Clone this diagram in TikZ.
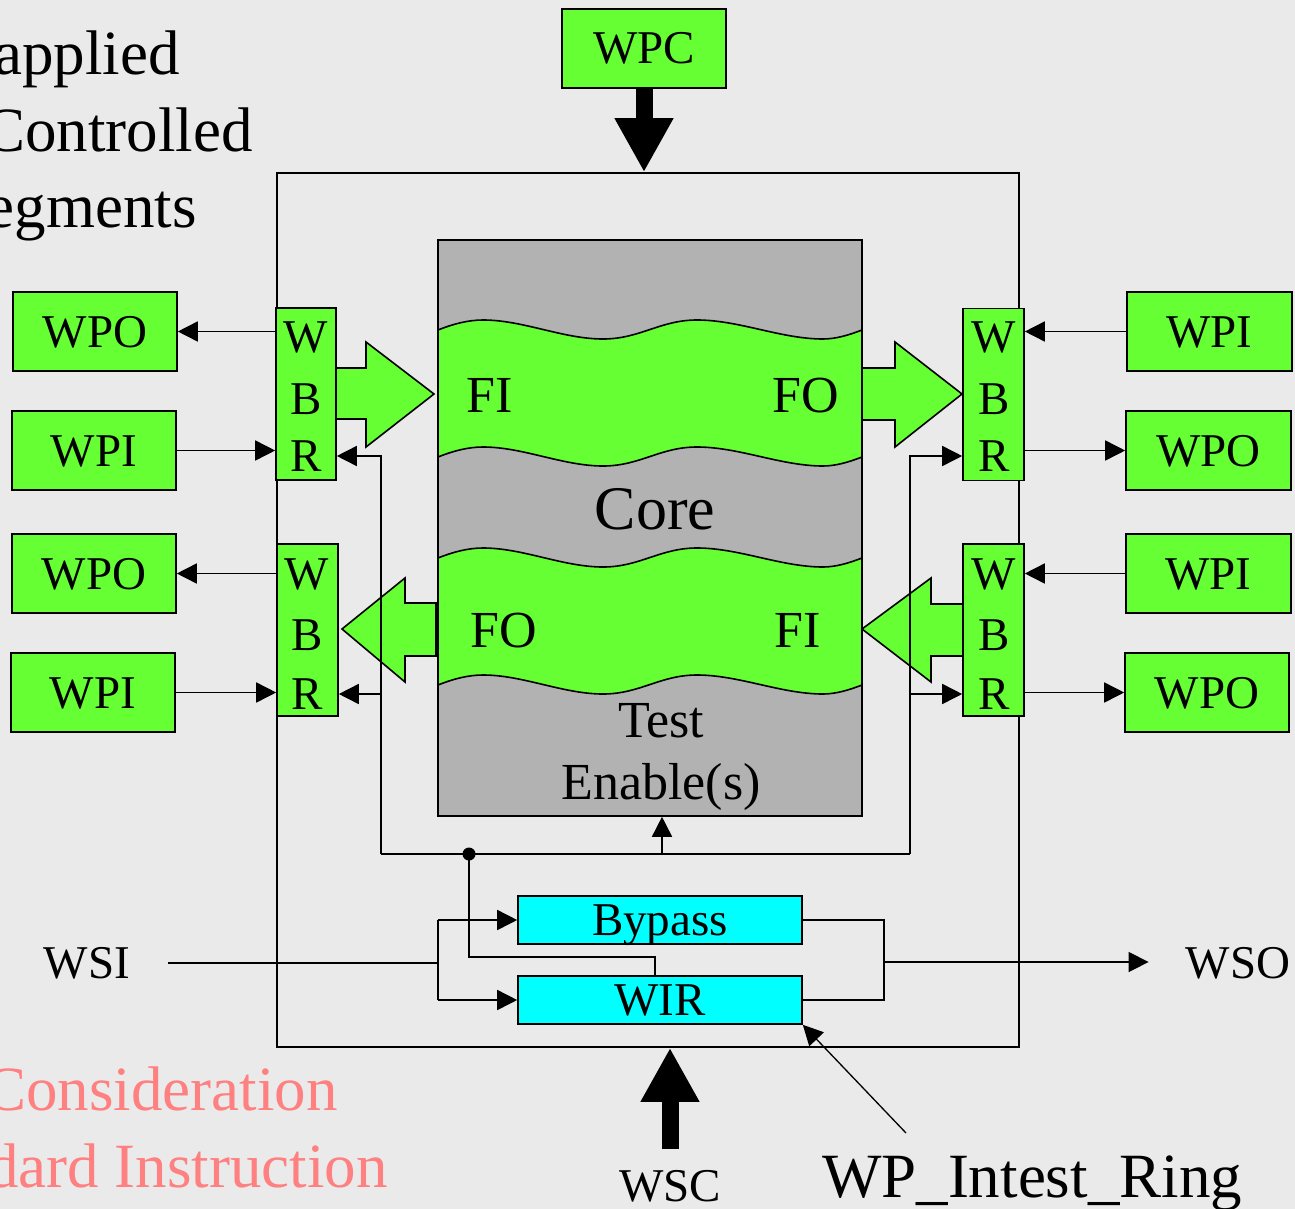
\documentclass[tikz,border=0pt]{standalone}
\usepackage{fontspec}
\setmainfont{Liberation Serif}
\usetikzlibrary{arrows.meta,calc}
\definecolor{bgc}{HTML}{EAEAEA}
\definecolor{grn}{HTML}{66FF33}
\definecolor{cyn}{HTML}{00FFFF}
\definecolor{coregray}{HTML}{B2B2B2}
\definecolor{redtxt}{HTML}{FF8080}
\newcommand\myfs[1]{\fontsize{#1pt}{#1pt}\selectfont}
\newcommand\bandpath{(438,330) .. controls (453,324) and (468,320) .. (483,320)
  .. controls (523,320) and (563,339) .. (603,339)
  .. controls (640,339) and (660,320) .. (697,320)
  .. controls (739,320) and (781,339) .. (823,339)
  .. controls (836,339) and (849,335) .. (862,330)
  -- (862,457)
  .. controls (849,462) and (836,466) .. (823,466)
  .. controls (781,466) and (739,447) .. (697,447)
  .. controls (660,447) and (640,466) .. (603,466)
  .. controls (563,466) and (523,447) .. (483,447)
  .. controls (468,447) and (453,451) .. (438,457) -- cycle}
\begin{document}
\begin{tikzpicture}[x=1pt,y=-1pt,
  ln/.style={line width=1.6pt},
  arr/.style={ln,-{Triangle[length=20pt,width=20pt]}},
  bigarr/.style={line width=17pt,-{Triangle[length=54pt,width=55pt]}},
  bx/.style={draw,ln,inner sep=0pt},
  wp/.style={bx,fill=grn,minimum width=164pt,minimum height=79pt,font=\myfs{47},text height=31pt,text depth=0pt},
  wbr/.style={bx,fill=grn,minimum width=61pt,minimum height=172pt},
  ltr/.style={font=\myfs{47},inner sep=0pt,text height=31pt,text depth=0pt},
  reg/.style={bx,fill=cyn,minimum width=284pt,minimum height=48pt,font=\myfs{47},text height=31pt,text depth=0pt},
  lbl/.style={inner sep=0pt,text depth=0pt},
  band/.style={draw,ln,fill=grn},
  garrow/.style={draw,ln,fill=grn,line join=miter}
]
\path[use as bounding box] (0,0) rectangle (1295,1209);
\clip (0,0) rectangle (1295,1209);
\fill[bgc] (0,0) rectangle (1295,1209);

% side texts
\node[lbl,anchor=base east,font=\myfs{63}] (ta) at (180,75) {applied};
\node[lbl,anchor=base east,font=\myfs{63}] (tb) at (253,152) {Controlled};
\node[lbl,anchor=base east,font=\myfs{63}] (tc) at (197,227) {egments};
\node[lbl,anchor=base east,font=\myfs{63},text=redtxt] (td) at (338,1110) {Consideration};
\node[lbl,anchor=base east,font=\myfs{63},text=redtxt] (tf) at (388,1187) {dard Instruction};

% outer wrapper and core
\node[bx,minimum width=742pt,minimum height=874pt] (outer) at (648,610) {};
\node[bx,fill=coregray,minimum width=424pt,minimum height=576pt] (core) at (650,528) {};
\path[band] \bandpath;
\begin{scope}[yshift=-228pt]
\path[band] \bandpath;
\end{scope}
\node[lbl,font=\myfs{52},text height=34pt] (fi1) at (490,395) {FI};
\node[lbl,font=\myfs{52},text height=34pt] (fo1) at (806,395) {FO};
\node[lbl,font=\myfs{52},text height=34pt] (fo2) at (504,630) {FO};
\node[lbl,font=\myfs{52},text height=34pt] (fi2) at (798,630) {FI};
\node[lbl,font=\myfs{62},text height=41pt] (coretxt) at (655,509) {Core};
\node[lbl,font=\myfs{52},text height=34pt] (test) at (661,720) {Test};
\node[lbl,font=\myfs{52},text height=34pt] (enab) at (661,782) {Enable(s)};

% feedback lines
\coordinate (fbL) at (381,854);
\coordinate (fbR) at (910,854);
\coordinate (dot) at (469,854);
\coordinate (tec) at (662,854);
\draw[ln] (fbL) -- (fbR);
\draw[arr] (tec) -- (tec |- core.south);

% green big arrows
\path[garrow] (336,368) -- (366,368) -- (366,342) -- (434,394) -- (366,447) -- (366,419) -- (336,419) -- cycle;
\path[garrow] (862,368) -- (895,368) -- (895,342) -- (962,394) -- (895,447) -- (895,420) -- (862,420) -- cycle;
\path[garrow] (436,603) -- (405,603) -- (405,578) -- (342,629) -- (405,682) -- (405,656) -- (436,656) -- cycle;
\path[garrow] (963,604) -- (931,604) -- (931,578) -- (862,629) -- (931,682) -- (931,656) -- (963,656) -- cycle;

% WBR boxes
\node[wbr,minimum width=60pt] (wbrL1) at (306,394) {};
\node[wbr] (wbrL2) at (307.5,630) {};
\node[wbr] (wbrR1) at (993.5,394.5) {};
\node[wbr] (wbrR2) at (993.5,630) {};
\node[ltr] (l1W) at (306,337) {W};
\node[ltr] (l1B) at (306,399) {B};
\node[ltr] (l1R) at (306,456) {R};
\node[ltr] (l2W) at (307,574) {W};
\node[ltr] (l2B) at (307,635) {B};
\node[ltr] (l2R) at (307,694) {R};
\node[ltr] (r1W) at (994,337) {W};
\node[ltr] (r1B) at (994,399) {B};
\node[ltr] (r1R) at (994,456) {R};
\node[ltr] (r2W) at (994,574) {W};
\node[ltr] (r2B) at (994,635) {B};
\node[ltr] (r2R) at (994,694) {R};

\draw[arr] (fbL) |- (wbrL1.east |- l1R);
\draw[arr] (fbL |- l2R) -- (wbrL2.east |- l2R);
\draw[arr] (fbR) |- (wbrR1.west |- r1R);
\draw[arr] (fbR |- r2R) -- (wbrR2.west |- r2R);

% WP boxes
\node[wp] (lwpo1) at (95,331.5) {WPO};
\node[wp] (lwpi1) at (94,450.5) {WPI};
\node[wp] (lwpo2) at (94,573.5) {WPO};
\node[wp] (lwpi2) at (93,692.5) {WPI};
\node[wp,minimum width=165pt] (rwpi1) at (1209.5,331.5) {WPI};
\node[wp,minimum width=165pt] (rwpo1) at (1208.5,450.5) {WPO};
\node[wp,minimum width=165pt] (rwpi2) at (1208.5,573.5) {WPI};
\node[wp] (rwpo2) at (1207,692.5) {WPO};

\draw[arr] (wbrL1.west |- lwpo1) -- (lwpo1.east);
\draw[arr] (lwpi1.east) -- (lwpi1.east -| wbrL1.west);
\draw[arr] (wbrL2.west |- lwpo2) -- (lwpo2.east);
\draw[arr] (lwpi2.east) -- (lwpi2.east -| wbrL2.west);
\draw[arr] (rwpi1.west) -- (rwpi1.west -| wbrR1.east);
\draw[arr] (wbrR1.east |- rwpo1) -- (rwpo1.west);
\draw[arr] (rwpi2.west) -- (rwpi2.west -| wbrR2.east);
\draw[arr] (wbrR2.east |- rwpo2) -- (rwpo2.west);

% WPC
\node[wp] (wpc) at (644,48.5) {WPC};
\draw[bigarr] (wpc.south) -- (wpc.south |- outer.north);

% Bypass / WIR
\node[reg] (bypass) at (660,920) {Bypass};
\node[reg] (wir) at (660,1000) {WIR};
\coordinate (wirJ) at (655,957);
\draw[ln] (dot) |- (wirJ) -- (wirJ |- wir.north);
\fill (dot) circle (6.5);

\node[lbl,font=\myfs{47},text height=31pt] (wsi) at (87,963) {WSI};
\node[lbl,font=\myfs{47},text height=31pt] (wso) at (1238,963) {WSO};
\coordinate (split) at (438,961);
\coordinate (merge) at (884,962);
\draw[ln,shorten <=38pt] (wsi.east) -- (wsi.east -| split);
\draw[ln] (split |- bypass.west) -- (split |- wir.west);
\draw[arr] (split |- bypass.west) -- (bypass.west);
\draw[arr] (split |- wir.west) -- (wir.west);
\draw[ln] (bypass.east) -- (bypass.east -| merge) -- (wir.east -| merge) -- (wir.east);
\draw[arr,shorten >=37pt] (merge) -- (merge -| wso.west);

% WSC
\node[lbl,font=\myfs{47},text height=31pt] (wsc) at (670,1186) {WSC};
\coordinate (wscT) at (670,1149);
\draw[bigarr] (wscT) -- (wscT |- outer.south);

% WP_Intest_Ring
\node[lbl,font=\myfs{63},text height=42pt] (ring) at (1032,1176) {WP\_Intest\_Ring};
\coordinate (ringS) at (906,1133);
\draw[arr,line width=1.3pt] (ringS) -- (wir.south east);
\end{tikzpicture}
\end{document}
